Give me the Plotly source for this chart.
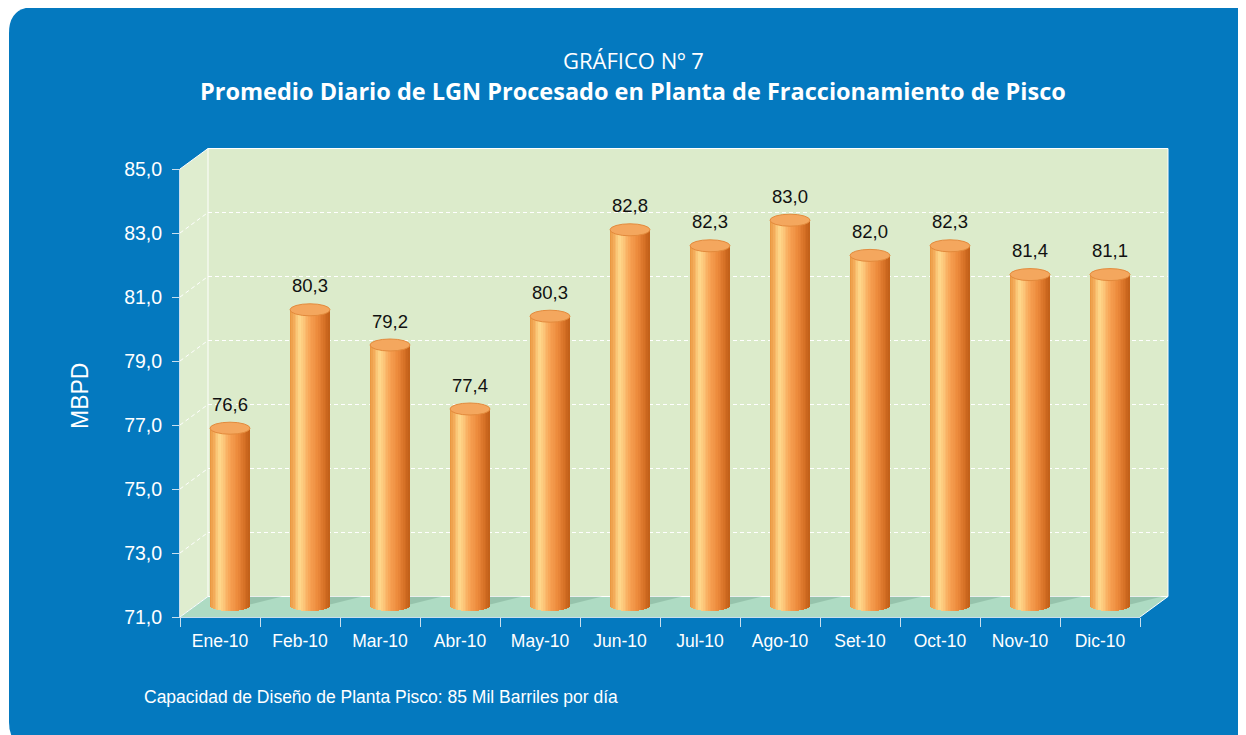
import plotly.graph_objects as go

# ---------------- data ----------------
months = ["Ene-10", "Feb-10", "Mar-10", "Abr-10", "May-10", "Jun-10",
          "Jul-10", "Ago-10", "Set-10", "Oct-10", "Nov-10", "Dic-10"]
# printed data labels
label_values = [76.6, 80.3, 79.2, 77.4, 80.3, 82.8, 82.3, 83.0, 82.0, 82.3, 81.4, 81.1]
# bar heights as drawn in the picture
bar_values = [76.6, 80.3, 79.2, 77.2, 80.1, 82.8, 82.3, 83.1, 82.0, 82.3, 81.4, 81.4]
y_ticks = [71, 73, 75, 77, 79, 81, 83, 85]

title_top = "GRÁFICO Nº 7"
title_main = "Promedio Diario de LGN Procesado en Planta de Fraccionamiento de Pisco"
y_title = "MBPD"
note = "Capacidad de Diseño de Planta Pisco: 85 Mil Barriles por día"

# ---------------- geometry (screen pixels; page body adds an 8px offset) ----------------
OFF = 8
W, H = 1246, 735
PL, PR, PT, PB = 180, 1140, 169, 617       # front plot frame (screen px)
YMIN, YMAX = 71, 85
DX, DY = 28, 20.5                          # 3-D depth offset

def px(x):
    return (x - PL) / (PR - PL)

def py(y):
    return (PB - y) / (PB - PT)

def vy(v):  # value -> pixel y (front plane)
    return PB - (v - YMIN) / (YMAX - YMIN) * (PB - PT)

BLUE = "#0479BF"
shapes = []

# blue rounded panel
L, T, R, B, r = 9, 7, 1258, 748, 26
path = (f"M {px(L+r)},{py(T)} L {px(R-r)},{py(T)} Q {px(R)},{py(T)} {px(R)},{py(T+r)} "
        f"L {px(R)},{py(B-r)} Q {px(R)},{py(B)} {px(R-r)},{py(B)} "
        f"L {px(L+r)},{py(B)} Q {px(L)},{py(B)} {px(L)},{py(B-r)} "
        f"L {px(L)},{py(T+r)} Q {px(L)},{py(T)} {px(L+r)},{py(T)} Z")
shapes.append(dict(type="path", xref="paper", yref="paper", path=path,
                   fillcolor=BLUE, line=dict(width=0), layer="below"))

def poly(pts, fill):
    p = "M " + " L ".join(f"{px(x)},{py(y)}" for x, y in pts) + " Z"
    return dict(type="path", xref="paper", yref="paper", path=p, fillcolor=fill,
                line=dict(width=0), layer="below")

def seg(x0, y0, x1, y1, color="white", lw=1, dash="solid"):
    return dict(type="line", xref="paper", yref="paper", x0=px(x0), y0=py(y0), x1=px(x1), y1=py(y1),
                line=dict(color=color, width=lw, dash=dash), layer="below")

# back wall
shapes.append(poly([(PL+DX, PT-DY), (PR+DX, PT-DY), (PR+DX, PB-DY), (PL+DX, PB-DY)], "#DCEBCB"))
# left side wall
shapes.append(poly([(PL, PT), (PL+DX, PT-DY), (PL+DX, PB-DY), (PL, PB)], "#DFEDCF"))
# floor
shapes.append(poly([(PL, PB), (PL+DX, PB-DY), (PR+DX, PB-DY), (PR, PB)], "#AEDBC3"))

# dashed gridlines on back wall and side wall
for v in y_ticks[1:-1]:
    yy = vy(v)
    shapes.append(seg(PL+DX, yy-DY, PR+DX, yy-DY, "white", 1, "4px,3px"))
    shapes.append(seg(PL, yy, PL+DX, yy-DY, "white", 1, "4px,3px"))

# white edges
shapes.append(seg(PL, PT, PL+DX, PT-DY))
shapes.append(seg(PL+DX, PT-DY, PR+DX, PT-DY))
shapes.append(seg(PR+DX, PT-DY, PR+DX, PB-DY))
shapes.append(seg(PL+DX, PT-DY, PL+DX, PB-DY))
shapes.append(seg(PL+DX, PB-DY, PR+DX, PB-DY))
shapes.append(seg(PL, PB, PL+DX, PB-DY))
shapes.append(seg(PR, PB, PR+DX, PB-DY))

# ---------------- cylinders ----------------
BAR_W = 0.5          # category units (40 px)
SHIFT = 0.125        # depth shift (10 px)
UNIT = (YMAX - YMIN) / (PB - PT)   # value units per pixel
RY = 6 * UNIT
BOTTOM_C = YMIN + 12 * UNIT
TOP_LIFT = 9.6 * UNIT

stops = [(0.0, (232, 146, 58)), (0.12, (245, 176, 96)), (0.25, (255, 219, 142)),
         (0.38, (251, 190, 114)), (0.5, (247, 162, 84)), (0.7, (236, 138, 60)),
         (0.88, (212, 110, 36)), (1.0, (192, 94, 24))]

def grad(t):
    for (t0, c0), (t1, c1) in zip(stops[:-1], stops[1:]):
        if t0 <= t <= t1:
            f = (t - t0) / (t1 - t0) if t1 > t0 else 0
            return "rgb(%d,%d,%d)" % tuple(round(a + (b - a) * f) for a, b in zip(c0, c1))
    return "rgb(192,94,24)"

xs = list(range(len(months)))
tops = [v + TOP_LIFT for v in bar_values]

# floor shadows
for i in xs:
    cx = PL + (i + 0.5) * (PR - PL) / len(months) + 10
    shapes.append(dict(type="path", xref="paper", yref="paper",
                       path=f"M {px(cx-6)},{py(609)} L {px(cx+22)},{py(604)} L {px(cx+52)},{py(PB-DY)} "
                            f"L {px(cx+12)},{py(PB-DY)} Z",
                       fillcolor="rgba(70,110,90,0.22)", line=dict(width=0), layer="below"))

N = 24
sw = BAR_W / N
fig = go.Figure()
for k in range(N):
    tc = (k + 0.5) / N
    u = 2 * tc - 1
    drop = RY * (1 - u * u) ** 0.5
    base = BOTTOM_C - drop
    fig.add_trace(go.Bar(
        x=xs, y=[t - base for t in tops], base=[base] * len(xs),
        width=sw * 1.15, offset=SHIFT - BAR_W / 2 + k * sw,
        marker=dict(color=grad(tc), line=dict(width=0)),
        hoverinfo="skip", showlegend=False))

# top caps
for i, t in zip(xs, tops):
    shapes.append(dict(type="circle", xref="x", yref="y",
                       x0=i + SHIFT - BAR_W / 2, x1=i + SHIFT + BAR_W / 2,
                       y0=t - RY, y1=t + RY, fillcolor="#F4A75E",
                       line=dict(color="#E38A3C", width=1), layer="above"))

# value labels
fig.add_trace(go.Scatter(
    x=[i + SHIFT for i in xs], y=[t + 22 * UNIT for t in tops], mode="text",
    text=[f"{v:.1f}".replace(".", ",") for v in label_values],
    textposition="middle center",
    textfont=dict(family="Liberation Sans, Arial", size=18.5, color="#111111"),
    hoverinfo="skip", showlegend=False))

annotations = [
    dict(text=title_top, xref="paper", yref="paper", x=px(633), y=py(60), showarrow=False,
         font=dict(family="Open Sans", size=22, color="white"), xanchor="center", yanchor="middle"),
    dict(text="<b>" + title_main + "</b>", xref="paper", yref="paper", x=px(633), y=py(91),
         showarrow=False, font=dict(family="Open Sans", size=23.5, color="white"),
         xanchor="center", yanchor="middle"),
    dict(text=y_title, xref="paper", yref="paper", x=px(80), y=py(396), showarrow=False,
         textangle=-90, font=dict(family="Liberation Sans, Arial", size=23, color="white"),
         xanchor="center", yanchor="middle"),
    dict(text=note, xref="paper", yref="paper", x=px(142), y=py(697), showarrow=False,
         font=dict(family="Liberation Sans Narrow, Arial Narrow, Liberation Sans", size=17.5, color="white"),
         xanchor="left", yanchor="middle"),
]

AX = "#C8DEEE"
fig.update_layout(
    width=W, height=H,
    margin=dict(l=PL - OFF, r=W - PR + OFF, t=PT - OFF, b=H - PB + OFF, pad=0),
    paper_bgcolor="white", plot_bgcolor="rgba(0,0,0,0)",
    barmode="overlay", bargap=0,
    separators=",.",
    shapes=shapes, annotations=annotations,
    xaxis=dict(range=[-0.5, len(months) - 0.5], tickmode="array", tickvals=xs, ticktext=months,
               ticks="", showgrid=False, zeroline=False, showline=True, linecolor=AX, linewidth=1,
               tickfont=dict(family="Liberation Sans, Arial", size=17.5, color="white"),
               ticklabelstandoff=8,
               minor=dict(tickmode="array", tickvals=[i - 0.5 for i in range(len(months) + 1)],
                          ticks="outside", ticklen=9, tickcolor=AX, tickwidth=1, showgrid=False)),
    yaxis=dict(range=[YMIN, YMAX], tickmode="array", tickvals=y_ticks,
               ticktext=[f"{v:.1f}".replace(".", ",") for v in y_ticks],
               ticks="outside", ticklen=7, tickcolor=AX, tickwidth=1,
               showgrid=False, zeroline=False, showline=True, linecolor=AX, linewidth=1,
               tickfont=dict(family="Liberation Sans, Arial", size=19.5, color="white"),
               ticklabelstandoff=6),
)

fig.write_html("out.html")
